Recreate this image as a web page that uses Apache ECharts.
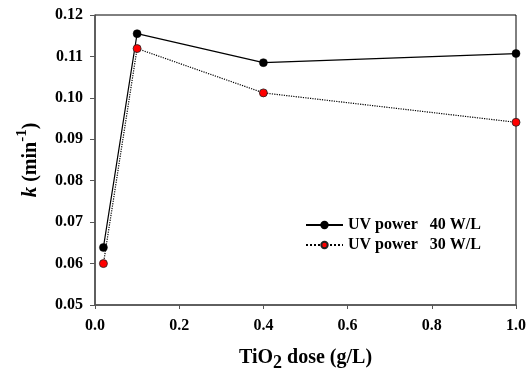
<!DOCTYPE html>
<html>
<head>
<meta charset="utf-8">
<script src="https://cdn.jsdelivr.net/npm/echarts@6/dist/echarts.min.js"></script>
<style>
  html, body { margin: 0; padding: 0; background: #fff; }
  #chart { width: 530px; height: 369px; }
</style>
</head>
<body>
<div id="chart"></div>
<script>
// TiO2 dose (g/L)
const doses = [0.02, 0.1, 0.4, 1.0];
// k (min^-1)
const k40 = [0.0639, 0.1155, 0.1085, 0.1107];
const k30 = [0.0600, 0.1119, 0.1012, 0.0941];
const seriesNames = ["UV power   40 W/L", "UV power   30 W/L"];

const font = "'Liberation Serif', 'Times New Roman', serif";
const chart = echarts.init(document.getElementById("chart"));

const pair = (xs, ys) => xs.map((x, i) => [x, ys[i]]);

chart.setOption({
  animation: false,
  grid: {
    left: 95, top: 15, right: 14, bottom: 64,
    outerBoundsMode: "none",
    show: true, borderColor: "#000", borderWidth: 1
  },
  legend: {
    left: 300, top: 212, orient: "vertical",
    itemWidth: 37, itemHeight: 8, itemGap: 4,
    textStyle: { fontFamily: font, fontWeight: "bold", fontSize: 16, color: "#000" },
    data: seriesNames
  },
  xAxis: {
    type: "value", min: 0, max: 1, interval: 0.2,
    axisLine: { lineStyle: { color: "#555", width: 1.5 } },
    axisTick: { length: 4, lineStyle: { color: "#555" } },
    splitLine: { show: false },
    axisLabel: {
      margin: 13, color: "#000", fontFamily: font, fontWeight: "bold", fontSize: 16,
      formatter: v => v.toFixed(1)
    },
    name: "{n|TiO}{sub|2}{n| dose (g/L)}",
    nameLocation: "middle", nameGap: 43,
    nameTextStyle: {
      rich: {
        n: { fontFamily: font, fontWeight: "bold", fontSize: 20, color: "#000", lineHeight: 24, verticalAlign: "top" },
        sub: { fontFamily: font, fontWeight: "bold", fontSize: 18, color: "#000", lineHeight: 24, verticalAlign: "bottom", padding: [4, 0, 0, 0] }
      }
    }
  },
  yAxis: {
    type: "value", min: 0.05, max: 0.12, interval: 0.01,
    axisLine: { show: true, lineStyle: { color: "#555", width: 1.5 } },
    axisTick: { show: true, length: 5, lineStyle: { color: "#555" } },
    splitLine: { show: false },
    axisLabel: {
      margin: 12, color: "#000", fontFamily: font, fontWeight: "bold", fontSize: 16,
      formatter: v => v.toFixed(2)
    },
    name: "{k|k}{n| (min}{sup|-1}{n|)}",
    nameLocation: "middle", nameGap: 54, nameRotate: 90,
    nameTextStyle: {
      rich: {
        k: { fontFamily: font, fontWeight: "bold", fontStyle: "italic", fontSize: 21, color: "#000", lineHeight: 26, verticalAlign: "bottom" },
        n: { fontFamily: font, fontWeight: "bold", fontSize: 20, color: "#000", lineHeight: 26, verticalAlign: "bottom" },
        sup: { fontFamily: font, fontWeight: "bold", fontSize: 15, color: "#000", lineHeight: 26, verticalAlign: "top" }
      }
    }
  },
  series: [
    {
      name: seriesNames[0], type: "line", data: pair(doses, k40),
      symbol: "circle", symbolSize: 8,
      itemStyle: { color: "#000", borderColor: "#000", borderWidth: 0.5 },
      lineStyle: { color: "#000", width: 1.2, type: "solid" }
    },
    {
      name: seriesNames[1], type: "line", data: pair(doses, k30),
      symbol: "circle", symbolSize: 8,
      itemStyle: { color: "#f00", borderColor: "#222", borderWidth: 0.8 },
      lineStyle: { color: "#000", width: 1.2, type: "dotted" }
    }
  ]
});
</script>
</body>
</html>
